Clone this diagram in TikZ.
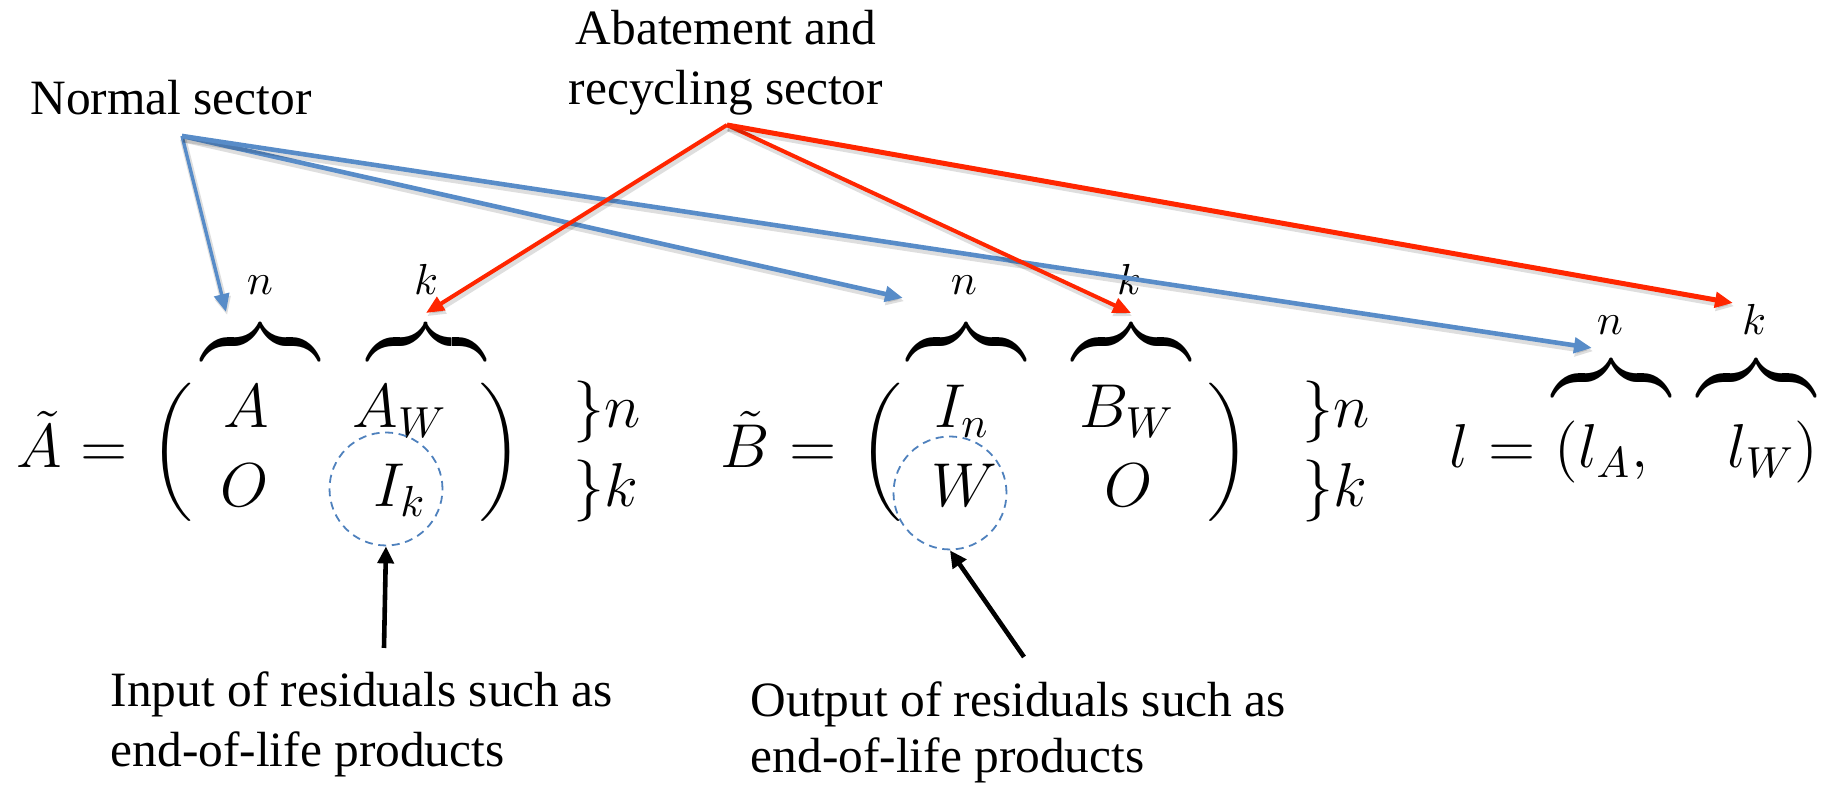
\RequirePackage{fix-cm}
\documentclass[tikz,border=0pt]{standalone}
\usepackage{amsmath}
\usepackage{graphicx}
\usepackage[no-math]{fontspec}
\newfontfamily\tnr{Liberation Serif}
\usetikzlibrary{arrows.meta}
\definecolor{nblue}{RGB}{88,140,200}
\definecolor{ared}{RGB}{255,38,0}
\definecolor{dblue}{RGB}{79,129,189}
\begin{document}
\begin{tikzpicture}[x=0.25pt,y=-0.25pt,
  mth/.style={inner sep=0pt, anchor=base, font=\fontsize{15.5}{18.6}\selectfont},
  mthw/.style={mth, anchor=base west},
  par/.style={inner sep=0pt, anchor=center, font=\fontsize{15.5}{18.6}\selectfont},
  brc/.style={inner sep=0pt, anchor=south, font=\fontsize{15.5}{18.6}\selectfont},
  lbl/.style={inner sep=0pt, font=\tnr\fontsize{12.35}{15}\selectfont},
  ring/.style={draw=dblue, line width=0.45pt, dash pattern=on 2pt off 1.4pt, circle, minimum size=28.25pt, inner sep=0pt},
  shade/.style={preaction={draw=black, opacity=0.13, line width=1.6pt, transform canvas={shift={(0.3pt,-0.8pt)}}}},
  bptr/.style={draw=nblue, line width=1.15pt, shade, -{Triangle[length=4.5pt,width=3.8pt]}},
  rptr/.style={draw=ared, line width=1pt, shade, -{Triangle[length=4.5pt,width=3.8pt]}},
  kptr/.style={draw=black, line width=1.15pt, -{Triangle[length=4.25pt,width=4pt]}}
]
\useasboundingbox (0,0) rectangle (1834,787);

% ---- labels
\node[lbl, anchor=base] (nsec) at (171,115) {Normal sector};
\node[lbl, anchor=base, align=center] (abat) at (726,105) {Abatement and\\recycling sector};
\node[lbl, anchor=base west, align=left] (inp) at (110,767) {Input of residuals such as\\end-of-life products};
\node[lbl, anchor=base west, align=left, font=\tnr\fontsize{12.35}{14}\selectfont] (outp) at (750,773) {Output of residuals such as\\end-of-life products};

% ---- A tilde
\node[mthw] (At) at (16,468) {$\tilde{A}$};
\node[mth] (eqA) at (104.5,468) {$=$};
\node[par] (lpA) at (174,452) {$\left(\vcenter{\hbox{\rule{0pt}{34pt}}}\right.$};
\node[mth] (a11) at (246,428) {$A$};
\node[mth] (a12) at (400,428) {$A_W$};
\node[mth] (a21) at (245,507) {$O$};
\node[mth] (a22) at (400,507) {$I_k$};
\node[par] (rpA) at (498,452) {$\left.\vcenter{\hbox{\rule{0pt}{34pt}}}\right)$};
\node[mthw] (rnA) at (573,428) {$\}n$};
\node[mthw] (rkA) at (573,507) {$\}k$};
\node[brc] (obA1) at (260,347) {\scalebox{1}[1.26]{\hbox to 29.5pt{\downbracefill}}};
\node[brc] (obA2) at (426,347) {\scalebox{1}[1.26]{\hbox to 29.5pt{\downbracefill}}};
\node[mth] (nA1) at (260,295) {$\scriptstyle n$};
\node[mth] (nA2) at (426,295) {$\scriptstyle k$};

% ---- B tilde
\node[mthw] (Bt) at (720,468) {$\tilde{B}$};
\node[mth] (eqB) at (813.5,468) {$=$};
\node[par] (lpB) at (883,452) {$\left(\vcenter{\hbox{\rule{0pt}{34pt}}}\right.$};
\node[mth] (b11) at (962,428) {$I_n$};
\node[mth] (b12) at (1127,428) {$B_W$};
\node[mth] (b21) at (964,507) {$W$};
\node[mth] (b22) at (1129,507) {$O$};
\node[par] (rpB) at (1226,452) {$\left.\vcenter{\hbox{\rule{0pt}{34pt}}}\right)$};
\node[mthw] (rnB) at (1302,428) {$\}n$};
\node[mthw] (rkB) at (1302,507) {$\}k$};
\node[brc] (obB1) at (966,347) {\scalebox{1}[1.26]{\hbox to 29.5pt{\downbracefill}}};
\node[brc] (obB2) at (1131,347) {\scalebox{1}[1.26]{\hbox to 29.5pt{\downbracefill}}};
\node[mth] (nB1) at (964,295) {$\scriptstyle n$};
\node[mth] (nB2) at (1129,295) {$\scriptstyle k$};

% ---- l vector
\node[mthw] (ls) at (1449,468) {$l$};
\node[mth] (eqL) at (1512,468) {$=$};
\node[mthw] (lA) at (1554,468) {$(l_A,$};
\node[mthw] (lW) at (1727,468) {$l_W)$};
\node[brc] (obL1) at (1611,383) {\scalebox{1}[1.26]{\hbox to 29.5pt{\downbracefill}}};
\node[brc] (obL2) at (1756,383) {\scalebox{1}[1.26]{\hbox to 29.5pt{\downbracefill}}};
\node[mth] (nL1) at (1610,335) {$\scriptstyle n$};
\node[mth] (nL2) at (1754,335) {$\scriptstyle k$};

% ---- dashed rings
\node[ring] (cIk) at (386,489) {};
\node[ring] (cW) at (950,493) {};

% ---- arrow end points
\coordinate (ns) at (182,136);
\coordinate (ar) at (727,125);
\coordinate (tb1) at (226,312);
\coordinate (tb2) at (903,298);
\coordinate (tb3) at (1592,348);
\coordinate (tr1) at (426,313);
\coordinate (tr2) at (1131,313);
\coordinate (tr3) at (1733,303);
\coordinate (tIn) at (384,648);
\coordinate (tOut) at (1024,657);

% ---- connectors
\draw[bptr, line width=0.85pt] (ns) -- (tb1);
\draw[bptr] (ns) -- (tb2);
\draw[bptr] (ns) -- (tb3);
\draw[rptr] (ar) -- (tr1);
\draw[rptr] (ar) -- (tr2);
\draw[rptr, line width=1.25pt] (ar) -- (tr3);
\draw[kptr] (tIn) -- (cIk.south);
\draw[kptr] (tOut) -- (cW.south);
\end{tikzpicture}
\end{document}
